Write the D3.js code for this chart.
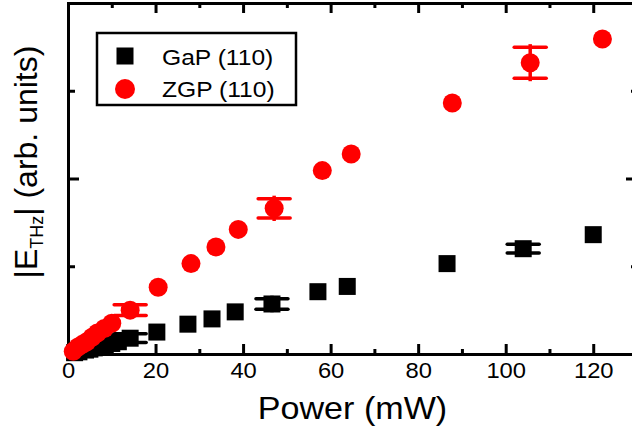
<!DOCTYPE html>
<html>
<head>
<meta charset="utf-8">
<script src="https://cdn.jsdelivr.net/npm/d3@7"></script>
<style>
  html, body { margin: 0; padding: 0; background: #fff; }
  svg { display: block; font-family: "Liberation Sans", Arial, sans-serif; }
</style>
</head>
<body>
<svg id="chart" width="632" height="431"></svg>
<script>
// Terahertz field amplitude versus pump power for two crystals
const gapPower = [1.5, 2.5, 4, 5, 6, 7, 8, 10, 11.5, 14.2, 20.3, 27.4, 32.9, 38.2, 46.6, 57.1, 63.8, 86.6, 104, 120];
const gapField = [0.015, 0.025, 0.045, 0.055, 0.07, 0.08, 0.09, 0.12, 0.14, 0.18, 0.25, 0.34, 0.40, 0.48, 0.57, 0.71, 0.77, 1.03, 1.20, 1.36];
const gapErr   = [0, 0, 0, 0, 0, 0, 0, 0, 0, 0.05, 0, 0, 0, 0, 0.06, 0, 0, 0, 0.05, 0];

const zgpPower = [1.2, 2.3, 3.3, 4.3, 5.5, 6.7, 8.3, 10, 14.2, 20.6, 28.1, 33.8, 38.9, 47.1, 58.1, 64.7, 87.8, 105.6, 122.1];
const zgpField = [0.03, 0.08, 0.11, 0.14, 0.19, 0.24, 0.29, 0.35, 0.50, 0.76, 1.03, 1.22, 1.42, 1.66, 2.09, 2.28, 2.86, 3.32, 3.59];
const zgpErr   = [0, 0, 0, 0, 0, 0, 0, 0, 0.06, 0, 0, 0, 0, 0.11, 0, 0, 0, 0.177, 0];

const xMajor = [0, 20, 40, 60, 80, 100, 120];
const xMinor = [10, 30, 50, 70, 90, 110, 130];
const yMajor = [0, 2, 4];
const yMinor = [1, 3];
const seriesNames = ["GaP (110)", "ZGP (110)"];

const svg = d3.select("#chart");
const padL = 68, padR = 637, padT = 3, padB = 354;

const x = d3.scaleLinear().domain([0, 130]).range([padL, padR]);
const y = d3.scaleLinear().domain([0, 4]).range([padB, padT]);

const axisStyle = g => {
  g.selectAll("path, line").attr("stroke", "#000").attr("stroke-width", 3);
  g.select(".domain").attr("stroke-linecap", "square");
};

// bottom axis with labels
const gb = svg.append("g").attr("transform", `translate(0,${padB})`)
  .call(d3.axisBottom(x).tickValues(xMajor).tickSizeInner(-10).tickSizeOuter(0).tickPadding(8));
gb.call(axisStyle);
gb.selectAll("text").attr("font-size", 22).attr("fill", "#000")
  .attr("font-family", "'Liberation Sans', Arial, sans-serif")
  .attr("transform", "scale(1.08,1)");
svg.append("g").attr("transform", `translate(0,${padB})`)
  .call(d3.axisBottom(x).tickValues(xMinor).tickSizeInner(-5).tickSizeOuter(0).tickFormat(""))
  .call(axisStyle).select(".domain").remove();

// top axis
svg.append("g").attr("transform", `translate(0,${padT})`)
  .call(d3.axisTop(x).tickValues(xMajor).tickSizeInner(-10).tickSizeOuter(0).tickFormat(""))
  .call(axisStyle);
svg.append("g").attr("transform", `translate(0,${padT})`)
  .call(d3.axisTop(x).tickValues(xMinor).tickSizeInner(-5).tickSizeOuter(0).tickFormat(""))
  .call(axisStyle).select(".domain").remove();

// left axis
svg.append("g").attr("transform", `translate(${padL},0)`)
  .call(d3.axisLeft(y).tickValues(yMajor).tickSizeInner(-11).tickSizeOuter(0).tickFormat(""))
  .call(axisStyle);
svg.append("g").attr("transform", `translate(${padL},0)`)
  .call(d3.axisLeft(y).tickValues(yMinor).tickSizeInner(-7).tickSizeOuter(0).tickFormat(""))
  .call(axisStyle).select(".domain").remove();

// right axis
svg.append("g").attr("transform", `translate(${padR},0)`)
  .call(d3.axisRight(y).tickValues(yMajor).tickSizeInner(-11).tickSizeOuter(0).tickFormat(""))
  .call(axisStyle);
svg.append("g").attr("transform", `translate(${padR},0)`)
  .call(d3.axisRight(y).tickValues(yMinor).tickSizeInner(-6).tickSizeOuter(0).tickFormat(""))
  .call(axisStyle).select(".domain").remove();

// axis titles
const cx0 = (padL + padR) / 2;
svg.append("text")
  .attr("x", cx0).attr("y", 419)
  .attr("text-anchor", "middle").attr("font-size", 31)
  .attr("transform", `translate(${cx0},0) scale(1.1,1) translate(${-cx0},0)`)
  .text("Power (mW)");

const yt = svg.append("text")
  .attr("transform", "translate(37,162) rotate(-90)")
  .attr("text-anchor", "middle").attr("font-size", 32);
yt.append("tspan").text("|E");
yt.append("tspan").attr("font-size", 18).attr("dy", 6).text("THz");
yt.append("tspan").attr("dy", -6).text("| (arb. units)");

// error bars + markers
const capHalf = 16;
function errorBars(px, py, pe, color) {
  const idx = d3.range(px.length).filter(i => pe[i] > 0);
  const g = svg.append("g").attr("stroke", color).attr("stroke-width", 3.5);
  idx.forEach(i => {
    const cx = x(px[i]), y1 = y(py[i] + pe[i]), y2 = y(py[i] - pe[i]);
    g.append("line").attr("x1", cx).attr("x2", cx).attr("y1", y1 - 3).attr("y2", y2 + 3);
    g.append("line").attr("x1", cx - capHalf).attr("x2", cx + capHalf).attr("y1", y1).attr("y2", y1)
      .attr("stroke-linecap", "round");
    g.append("line").attr("x1", cx - capHalf).attr("x2", cx + capHalf).attr("y1", y2).attr("y2", y2)
      .attr("stroke-linecap", "round");
  });
}

const sq = 17;
errorBars(gapPower, gapField, gapErr, "#000");
svg.append("g").selectAll("rect").data(d3.range(gapPower.length)).join("rect")
  .attr("x", i => x(gapPower[i]) - sq / 2).attr("y", i => y(gapField[i]) - sq / 2)
  .attr("width", sq).attr("height", sq).attr("fill", "#000");

errorBars(zgpPower, zgpField, zgpErr, "#ff0000");
svg.append("g").selectAll("circle").data(d3.range(zgpPower.length)).join("circle")
  .attr("cx", i => x(zgpPower[i])).attr("cy", i => y(zgpField[i]))
  .attr("r", 9.5).attr("fill", "#ff0000");

// legend
const lg = svg.append("g");
lg.append("rect").attr("x", 97).attr("y", 33).attr("width", 199).attr("height", 72)
  .attr("fill", "#fff").attr("stroke", "#000").attr("stroke-width", 2.5);
lg.append("rect").attr("x", 125 - sq / 2).attr("y", 56 - sq / 2).attr("width", sq).attr("height", sq).attr("fill", "#000");
lg.append("circle").attr("cx", 125).attr("cy", 89).attr("r", 10).attr("fill", "#ff0000");
lg.selectAll("text").data(seriesNames).join("text")
  .attr("x", 162).attr("y", (d, i) => 65 + i * 32)
  .attr("font-size", 22)
  .attr("transform", "translate(162,0) scale(1.12,1) translate(-162,0)")
  .text(d => d);
</script>
</body>
</html>
